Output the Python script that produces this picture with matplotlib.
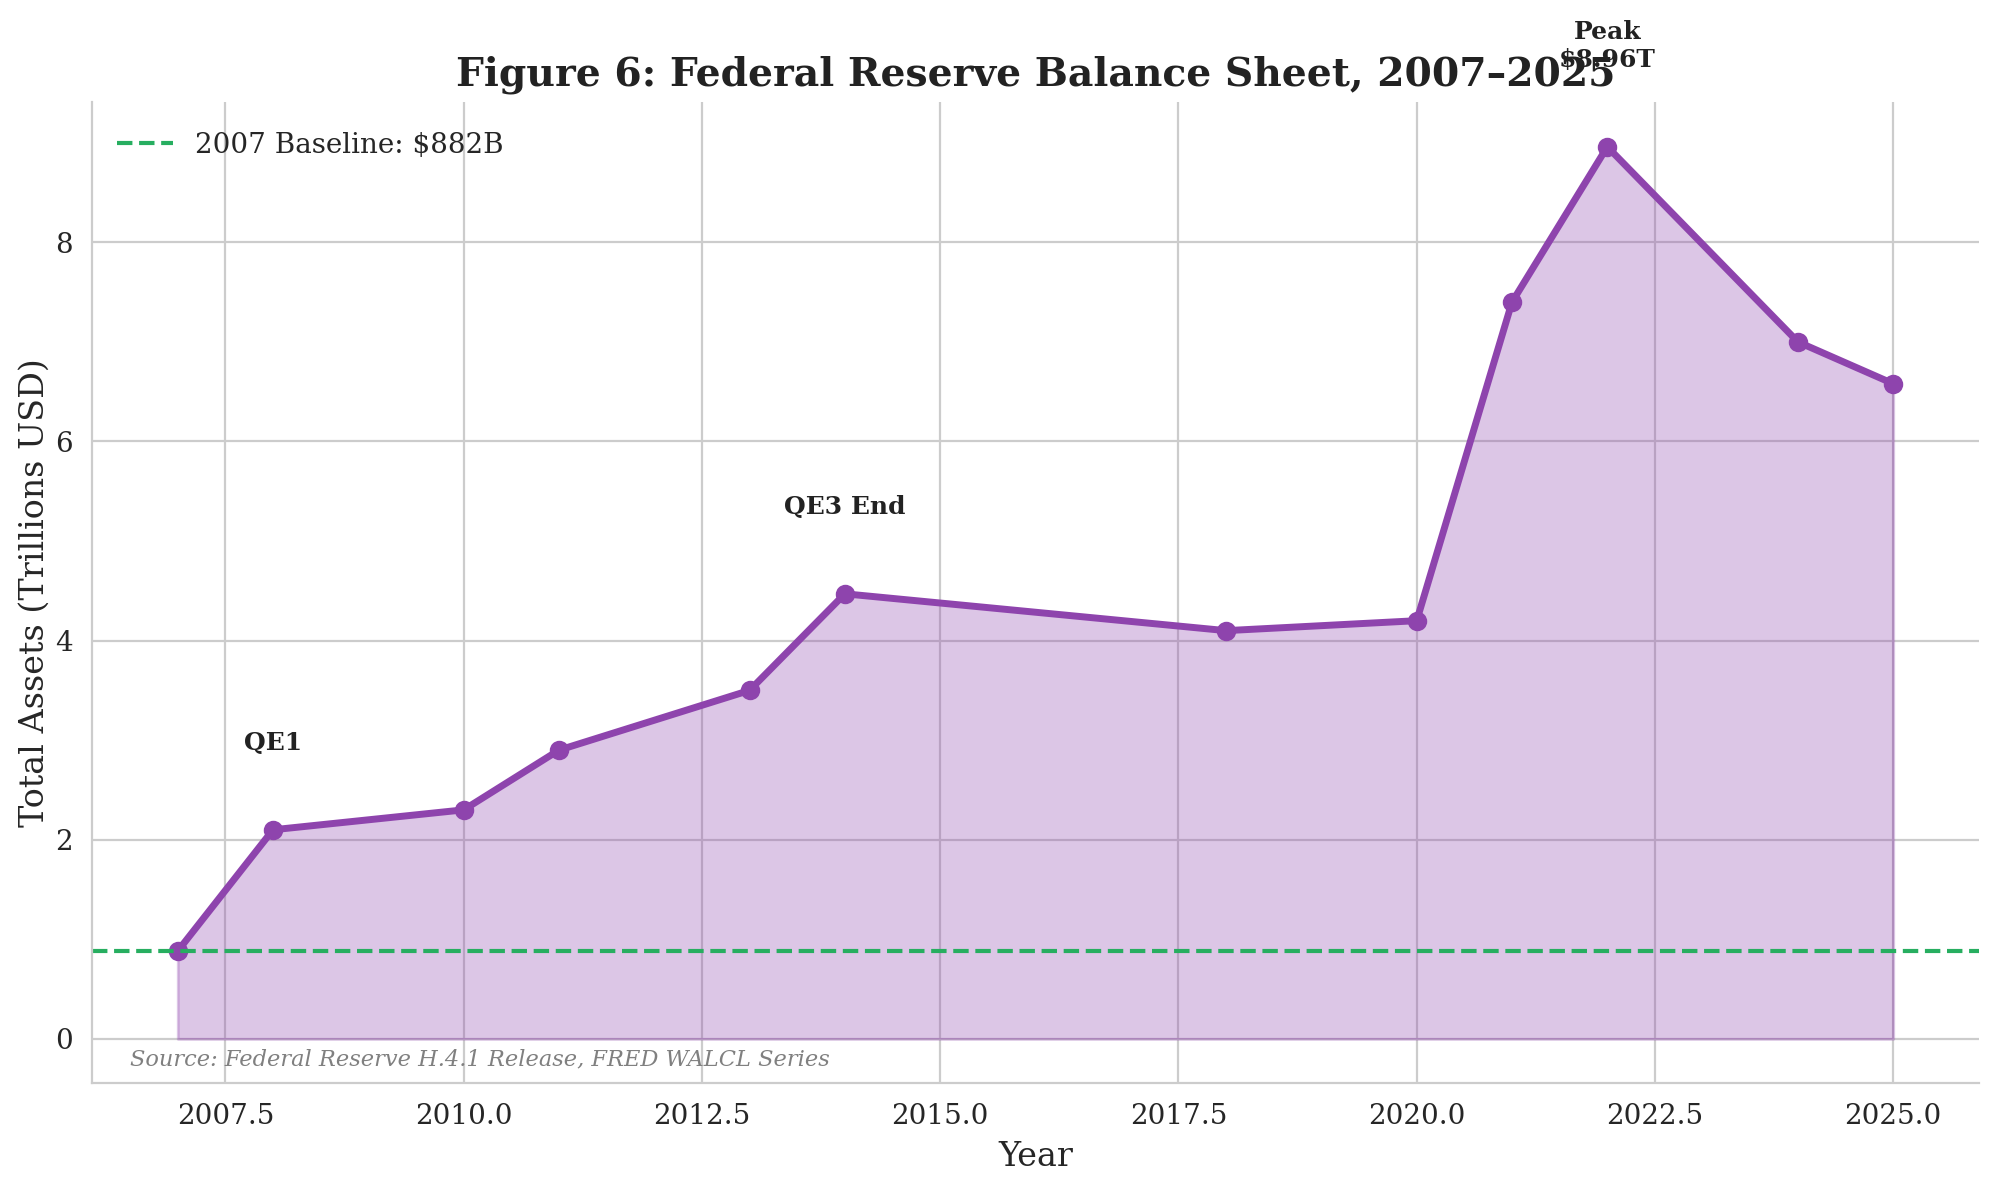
import matplotlib
matplotlib.use("Agg")
import matplotlib.pyplot as plt
import seaborn as sns

sns.set_style("whitegrid")
plt.rcParams['font.family'] = ['DejaVu Serif']

# Fed total assets, trillions USD
years = [2007, 2008, 2010, 2011, 2013, 2014, 2018, 2020, 2021, 2022, 2024, 2025]
assets = [0.882, 2.1, 2.3, 2.9, 3.5, 4.47, 4.1, 4.2, 7.4, 8.96, 7.0, 6.58]

baseline = 0.882
baseline_label = '2007 Baseline: $882B'

events = ['QE1', 'QE3 End', 'Peak\n$8.96T']
event_years = [2008, 2014, 2022]
event_values = [2.1, 4.47, 8.96]

purple = '#8e44ad'
green = '#27ae60'

fig, ax = plt.subplots(figsize=(9.995, 5.94), dpi=200)
fig.subplots_adjust(left=0.046, right=0.99, top=0.914, bottom=0.088)

ax.fill_between(years, assets, 0, color=purple, alpha=0.3)
ax.plot(years, assets, color=purple, linewidth=2.5, marker='o', markersize=6)
ax.axhline(baseline, color=green, linestyle='--', linewidth=1.5, label=baseline_label)

# event labels sit above the points, peak one spills over the title
for label, x, y in zip(events, event_years, event_values):
    ax.text(x, y + 0.8, label, ha='center', va='baseline',
            fontsize=9, fontweight='bold', color='#222222', clip_on=False)

ax.text(0.02, 0.018, 'Source: Federal Reserve H.4.1 Release, FRED WALCL Series',
        transform=ax.transAxes, fontsize=8.1, style='italic', color='gray')

ax.set_title('Figure 6: Federal Reserve Balance Sheet, 2007\u20132025',
             fontsize=14.15, fontweight='bold', color='#222222')
ax.set_xlabel('Year', fontsize=12)
ax.set_ylabel('Total Assets (Trillions USD)', fontsize=12, labelpad=1.5)
ax.tick_params(labelsize=10)
ax.legend(loc='upper left', bbox_to_anchor=(0, 0.995), frameon=False, fontsize=10)
sns.despine(ax=ax)

fig.savefig('out.png', dpi=200)
